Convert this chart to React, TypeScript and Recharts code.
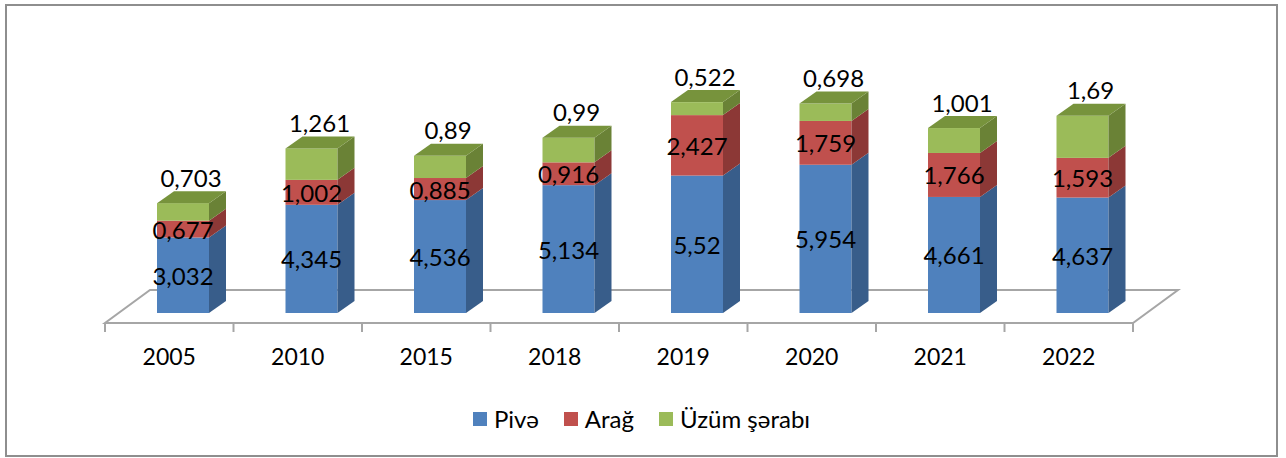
import React from "react";
import { BarChart, Bar, XAxis, YAxis, ReferenceArea, Legend, LabelList } from "recharts";

const years = ["2005", "2010", "2015", "2018", "2019", "2020", "2021", "2022"];
const pive = [3.032, 4.345, 4.536, 5.134, 5.52, 5.954, 4.661, 4.637];
const arag = [0.677, 1.002, 0.885, 0.916, 2.427, 1.759, 1.766, 1.593];
const uzum = [0.703, 1.261, 0.89, 0.99, 0.522, 0.698, 1.001, 1.69];
const seriesNames = ["Pivə", "Arağ", "Üzüm şərabı"];

const data = years.map((year, i) => ({ year, pive: pive[i], arag: arag[i], uzum: uzum[i] }));

const FONT = "Lato, 'Open Sans', sans-serif";
// 3d depth of the bars
const DX = 17;
const DY = 12;

// eslint-disable-next-line @typescript-eslint/no-explicit-any
const makeShape = (front: string, side: string, top?: string) => (props: any) => {
  const { x, y, width, height } = props;
  if (!height) return <g />;
  return (
    <g>
      <rect x={x} y={y} width={width} height={height} fill={front} />
      <polygon
        points={`${x + width},${y + height} ${x + width},${y} ${x + width + DX},${y - DY} ${x + width + DX},${y + height - DY}`}
        fill={side}
      />
      {top && (
        <polygon points={`${x},${y} ${x + width},${y} ${x + width + DX},${y - DY} ${x + DX},${y - DY}`} fill={top} />
      )}
    </g>
  );
};

const fmt = (v: number) => String(v).replace(".", ",");

// eslint-disable-next-line @typescript-eslint/no-explicit-any
const InsideLabel = (props: any) => {
  const { x, y, width, height, value } = props;
  return (
    <text x={x + width / 2} y={y + height / 2} textAnchor="middle" dominantBaseline="central" fontSize={24} fontFamily={FONT} fill="#000">
      {fmt(value)}
    </text>
  );
};

// eslint-disable-next-line @typescript-eslint/no-explicit-any
const TopLabel = (props: any) => {
  const { x, y, width, value } = props;
  return (
    <text x={x + width / 2 + 8} y={y - 26} textAnchor="middle" dominantBaseline="central" fontSize={24} fontFamily={FONT} fill="#000">
      {fmt(value)}
    </text>
  );
};

// floor of the 3d plot, drawn from the reference area rect
// eslint-disable-next-line @typescript-eslint/no-explicit-any
const Floor = (props: any) => {
  const { x, y, width, height } = props;
  const base = y + height;
  const fx = x - 14;
  const fy = base + 10;
  const bx = x + 31;
  const by = base - 23;
  const step = width / years.length;
  return (
    <g>
      <polygon
        points={`${fx},${fy} ${fx + width},${fy} ${bx + width},${by} ${bx},${by}`}
        fill="#fff"
        stroke="#a6a6a6"
        strokeWidth={2}
      />
      {Array.from({ length: years.length + 1 }, (_, i) => (
        <line key={i} x1={fx + i * step} y1={fy} x2={fx + i * step} y2={fy + 9} stroke="#a6a6a6" strokeWidth={2} />
      ))}
    </g>
  );
};

// eslint-disable-next-line @typescript-eslint/no-explicit-any
const YearTick = (props: any) => {
  const { x, y, payload } = props;
  return (
    <text x={x - 14} y={y + 35} textAnchor="middle" dominantBaseline="central" fontSize={23} fontFamily={FONT} fill="#000">
      {payload.value}
    </text>
  );
};

// eslint-disable-next-line @typescript-eslint/no-explicit-any
const LegendContent = (props: any) => {
  // eslint-disable-next-line @typescript-eslint/no-explicit-any
  const items = [...(props.payload || [])].sort((a: any, b: any) => seriesNames.indexOf(a.value) - seriesNames.indexOf(b.value));
  return (
    <div style={{ display: "flex", justifyContent: "center", gap: 25, fontFamily: FONT, fontSize: 24 }}>
      {/* eslint-disable-next-line @typescript-eslint/no-explicit-any */}
      {items.map((p: any) => (
        <div key={p.value} style={{ display: "flex", alignItems: "center", gap: 7 }}>
          <span style={{ width: 14, height: 14, background: p.color, display: "inline-block" }} />
          <span>{p.value}</span>
        </div>
      ))}
    </div>
  );
};

export default function App() {
  return (
    <div
      style={{
        position: "absolute",
        left: 5,
        top: 4,
        width: 1269,
        height: 449,
        border: "2px solid #8e8e8e",
        background: "#fff",
      }}
    >
      <BarChart width={1269} height={449} data={data} margin={{ top: 58, right: 129, bottom: 112, left: 112 }}>
        <XAxis dataKey="year" height={30} axisLine={false} tickLine={false} interval={0} tick={<YearTick />} />
        <YAxis hide domain={[0, 10]} />
        <ReferenceArea y1={0} y2={1} shape={Floor} zIndex={-100} ifOverflow="visible" />
        <Bar dataKey="pive" name={seriesNames[0]} stackId="a" barSize={52} fill="#4F81BD" shape={makeShape("#4F81BD", "#385D8A")} isAnimationActive={false}>
          <LabelList dataKey="pive" content={<InsideLabel />} />
        </Bar>
        <Bar dataKey="arag" name={seriesNames[1]} stackId="a" barSize={52} fill="#C0504D" shape={makeShape("#C0504D", "#8C3836")} isAnimationActive={false}>
          <LabelList dataKey="arag" content={<InsideLabel />} />
        </Bar>
        <Bar
          dataKey="uzum"
          name={seriesNames[2]}
          stackId="a"
          barSize={52}
          fill="#9BBB59"
          shape={makeShape("#9BBB59", "#6A8236", "#77933C")}
          isAnimationActive={false}
        >
          <LabelList dataKey="uzum" content={<TopLabel />} />
        </Bar>
        <Legend
          verticalAlign="middle"
          align="center"
          layout="horizontal"
          content={<LegendContent />}
          wrapperStyle={{ top: 398, left: 0, width: 1269 }}
        />
      </BarChart>
    </div>
  );
}
